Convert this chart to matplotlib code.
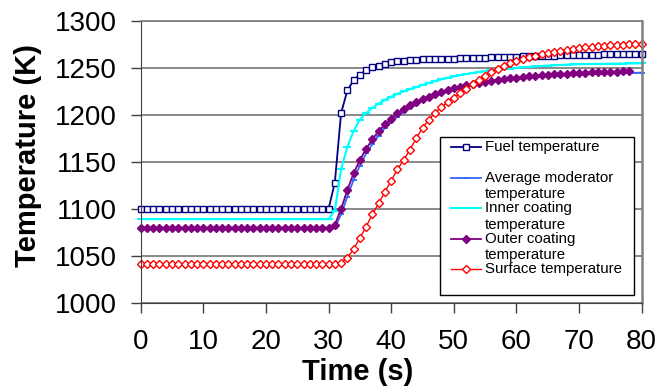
import matplotlib
matplotlib.use("Agg")
import matplotlib.pyplot as plt
from matplotlib.lines import Line2D
from matplotlib.patches import Rectangle

plt.rcParams['font.family'] = ['Liberation Sans', 'DejaVu Sans']

# Temps (s)
time_s = list(range(0, 81))

# Temperatures (K)
fuel = [1100.0] * 31 + [
    1128, 1202, 1226, 1237, 1243, 1247.5, 1250.5, 1252.5, 1254.5, 1256,
    1257, 1257.7, 1258.2, 1258.6, 1259, 1259.2, 1259.4, 1259.6, 1259.8, 1260,
    1260.2, 1260.4, 1260.6, 1260.8, 1261, 1261.2, 1261.4, 1261.6, 1261.8, 1262,
    1262.2, 1262.4, 1262.6, 1262.8, 1263, 1263.2, 1263.4, 1263.6, 1263.8, 1264,
    1264.1, 1264.2, 1264.3, 1264.4, 1264.5, 1264.6, 1264.7, 1264.8, 1264.9, 1265]

avg_moderator = [1079.0] * 31 + [
    1080, 1094, 1113, 1131, 1146, 1159, 1169, 1178, 1186, 1192,
    1198, 1203, 1207.5, 1211, 1214.5, 1217.5, 1220, 1222.5, 1224.5, 1226.5,
    1228, 1229.5, 1231, 1232.3, 1233.5, 1234.6, 1235.6, 1236.5, 1237.3, 1238,
    1238.7, 1239.3, 1239.9, 1240.4, 1240.9, 1241.3, 1241.7, 1242.1, 1242.5, 1242.8,
    1243.1, 1243.4, 1243.7, 1244, 1244.2, 1244.4, 1244.6, 1244.8, 1244.9, 1245]

inner_coating = [1089.0] * 31 + [
    1098, 1142, 1166, 1183, 1195, 1202, 1207.5, 1212, 1216, 1219.5,
    1222.5, 1225, 1227.3, 1229.5, 1232, 1234, 1236, 1237.8, 1239.5, 1241,
    1242.3, 1243.5, 1244.6, 1245.6, 1246.5, 1247.3, 1248, 1248.7, 1249.4, 1250,
    1250.6, 1251.1, 1251.6, 1252.1, 1252.5, 1252.8, 1253.1, 1253.4, 1253.7, 1254,
    1254.1, 1254.2, 1254.3, 1254.4, 1254.5, 1254.6, 1254.7, 1254.8, 1254.9, 1255]

outer_coating = [1080.0] * 31 + [
    1083, 1100, 1120, 1138, 1152, 1164, 1174, 1183, 1190, 1196,
    1202, 1206.5, 1210.5, 1214, 1217, 1219.5, 1222, 1224.5, 1226.5, 1228.5,
    1230, 1231.5, 1233, 1234, 1235.2, 1236.3, 1237.3, 1238.2, 1239, 1239.8,
    1240.5, 1241.1, 1241.7, 1242.2, 1242.7, 1243.1, 1243.5, 1243.9, 1244.3, 1244.6,
    1244.9, 1245.2, 1245.5, 1245.7, 1245.9, 1246.1, 1246.3, 1246.5]

surface = [1041.0] * 32 + [
    1042, 1048, 1057, 1069, 1081, 1094, 1106, 1118, 1130,
    1142, 1152, 1163, 1175, 1186, 1195, 1202, 1208, 1213.5, 1218.5,
    1223, 1228, 1232.5, 1237, 1241.5, 1246, 1249, 1252.3, 1255, 1257.5,
    1259.5, 1261.3, 1263, 1264.5, 1266, 1267.3, 1268.5, 1269.6, 1270.6, 1271.4,
    1272.1, 1272.7, 1273.2, 1273.7, 1274.1, 1274.5, 1274.8, 1275.1, 1275.3, 1275.5]

W, H = 659, 387
fig = plt.figure(figsize=(W / 100, H / 100), dpi=100)
ax = fig.add_axes([140.7 / W, 1 - 302.7 / H, 501 / W, 281.7 / H])

series = [
    (fuel, 'Fuel temperature', dict(color='#000080', marker='s', ms=4.6, mfc='white', mec='#000080', mew=1, lw=1.3)),
    (avg_moderator, 'Average moderator\ntemperature', dict(color='#3366ff', marker='_', ms=5, mew=1.3, lw=1.3)),
    (inner_coating, 'Inner coating\ntemperature', dict(color='#00ffff', marker='_', ms=6, mew=1.5, lw=1.5)),
    (outer_coating, 'Outer coating\ntemperature', dict(color='#800080', marker='D', ms=4.2, mfc='#800080', mec='#800080', lw=1.3)),
    (surface, 'Surface temperature', dict(color='#ff0000', marker='D', ms=4.2, mfc='white', mec='#ff0000', mew=1, lw=1)),
]

for vals, lab, st in series:
    ax.plot(time_s[:len(vals)], vals, clip_on=False, **st)

ax.set_xlim(0, 80)
ax.set_ylim(1000, 1300)
ax.set_xticks(range(0, 81, 10))
ax.set_yticks(range(1000, 1301, 50))
ax.yaxis.grid(True, color='#808080', lw=1.3)
ax.set_axisbelow(True)
ax.tick_params(direction='out', length=7, width=1, color='#404040', labelsize=20)
ax.tick_params(axis='y', pad=10)
ax.tick_params(axis='x', pad=12)
ax.spines['top'].set_color('#808080')
ax.spines['top'].set_linewidth(1.3)
ax.spines['right'].set_color('#808080')
ax.spines['right'].set_linewidth(1.8)
ax.spines['left'].set_color('#404040')
ax.spines['bottom'].set_color('#404040')

ax.set_xlabel('Time (s)', fontsize=21, fontweight='bold', va='center')
ax.xaxis.set_label_coords((358 - 140.7) / 501, (302.7 - 372) / 281.7)
ax.set_ylabel('Temperature (K)', fontsize=21, fontweight='bold', va='center')
ax.yaxis.set_label_coords((28 - 140.7) / 501, (302.7 - 155.8) / 281.7)

# légende dessinée à la main (texte sur deux lignes comme dans l'original)
def fx(px):
    return px / W

def fy(py):
    return 1 - py / H

fig.add_artist(Rectangle((fx(440), fy(295)), (634 - 440) / W, (295 - 137) / H,
                         transform=fig.transFigure, facecolor='white',
                         edgecolor='black', lw=1, zorder=5))
rows = [147.3, 177.7, 208, 239, 269.3]
for (vals, lab, st), yy in zip(series, rows):
    fig.add_artist(Line2D([fx(451), fx(481)], [fy(yy), fy(yy)], transform=fig.transFigure,
                          color=st['color'], lw=st['lw'], zorder=6))
    mk = {k: v for k, v in st.items() if k not in ('lw', 'ms')}
    fig.add_artist(Line2D([fx(466)], [fy(yy)], transform=fig.transFigure, ls='none',
                          ms=3.8, zorder=7, **mk))
    lines = lab.split('\n')
    fig.text(fx(485), fy(yy), lines[0], fontsize=10.8, va='center', ha='left', zorder=8)
    if len(lines) > 1:
        fig.text(fx(485), fy(yy + 16.5), lines[1], fontsize=10.8, va='center', ha='left', zorder=8)

fig.savefig('out.png', dpi=100)
